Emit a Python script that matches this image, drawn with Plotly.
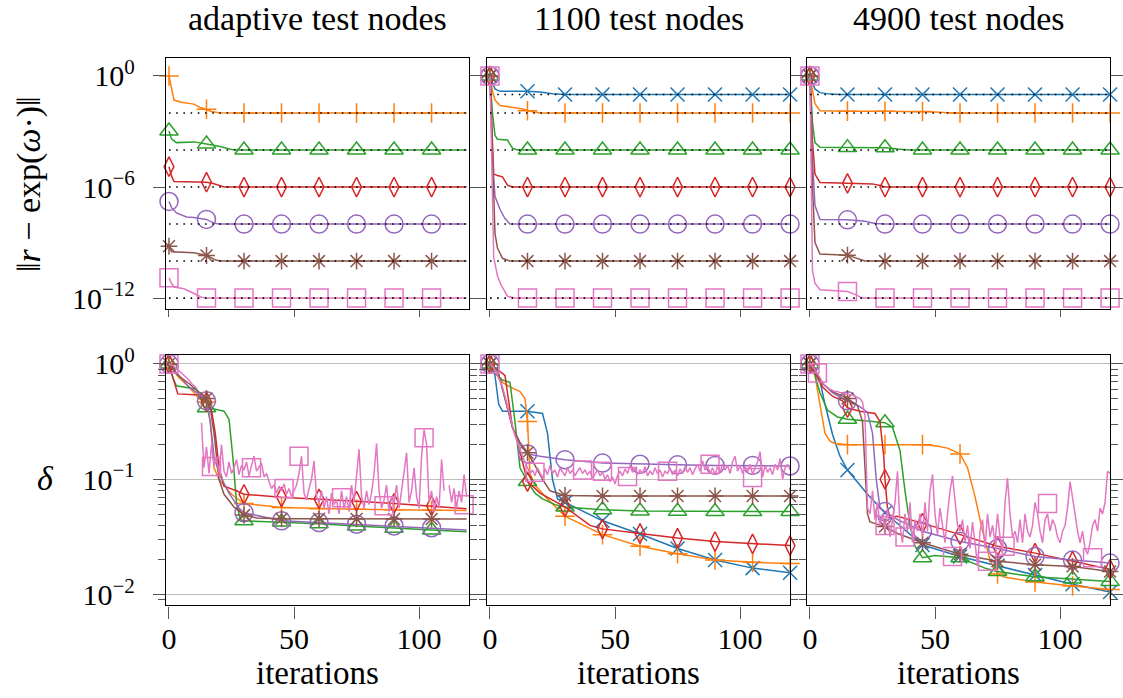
import plotly.graph_objects as go

# ---------------- colours / markers ----------------
C_BLUE, C_ORANGE, C_GREEN = "#1f77b4", "#ff7f0e", "#2ca02c"
C_RED, C_PURPLE, C_BROWN, C_PINK = "#d62728", "#9467bd", "#8c564b", "#e377c2"

PANEL_TITLES = ["adaptive test nodes", "1100 test nodes", "4900 test nodes"]
X_TICKS = [0, 50, 100]
TOP_TICKS = [1, 1e-6, 1e-12]
TOP_TICKTEXT = ["10<sup>0</sup>", "10<sup>−6</sup>", "10<sup>−12</sup>"]
BOT_TICKS = [1, 0.1, 0.01]
BOT_TICKTEXT = ["10<sup>0</sup>", "10<sup>−1</sup>", "10<sup>−2</sup>"]
BOT_MINOR = [0.009] + [k * 0.01 for k in range(2, 10)] + [k * 0.1 for k in range(2, 10)]

TARGETS_ADAPT = [-2, -4, -6, -8, -10, -12]        # log10 of dotted reference levels
TARGETS_FIXED = [-1, -2, -4, -6, -8, -10, -12]

# ---------------- data: (iteration, log10 value) ----------------
# top row, adaptive
TA_ORANGE = [(0, 0), (1, -0.6), (2, -1.3), (5, -1.42), (10, -1.52), (12, -1.68), (15, -1.8), (17, -1.92), (20, -1.99),
             (30, -2), (45, -2), (60, -2), (75, -2), (90, -2), (105, -2), (119, -2)]
TA_GREEN = [(0, -2.97), (1, -3.4), (3, -3.6), (10, -3.56), (15, -3.68), (20, -3.8), (25, -3.97), (30, -4),
            (45, -4), (60, -4), (75, -4), (90, -4), (105, -4), (119, -4)]
TA_RED = [(0, -4.9), (1, -5.4), (2, -5.7), (10, -5.72), (15, -5.74), (18, -5.82), (22, -6), (30, -6),
          (45, -6), (60, -6), (75, -6), (90, -6), (105, -6), (119, -6)]
TA_PURPLE = [(0, -6.78), (1, -7.1), (3, -7.4), (7, -7.62), (10, -7.65), (15, -7.75), (18, -7.95), (20, -8), (30, -8),
             (45, -8), (60, -8), (75, -8), (90, -8), (105, -8), (119, -8)]
TA_BROWN = [(0, -9.2), (1, -9.5), (10, -9.55), (15, -9.7), (19, -9.96), (21, -10), (30, -10),
            (45, -10), (60, -10), (75, -10), (90, -10), (105, -10), (119, -10)]
TA_PINK = [(0, -10.9), (1, -11.2), (2, -11.4), (6, -11.5), (10, -11.75), (13, -11.95), (15, -12), (30, -12),
           (45, -12), (60, -12), (75, -12), (90, -12), (105, -12), (119, -12)]

# top row, 1100 nodes
T1_BLUE = [(0, 0), (1, -0.4), (2, -0.7), (4, -0.83), (8, -0.82), (15, -0.82), (20, -0.86), (25, -0.96), (30, -1),
           (45, -1), (60, -1), (75, -1), (90, -1), (105, -1), (120, -1)]
T1_ORANGE = [(0, 0), (1, -0.8), (2, -1.3), (4, -1.6), (10, -1.72), (13, -1.78), (15, -1.88), (18, -1.97), (20, -2),
             (30, -2), (45, -2), (60, -2), (75, -2), (90, -2), (105, -2), (120, -2)]
T1_GREEN = [(0, 0), (1, -2.0), (2, -3.2), (3, -3.42), (7, -3.46), (9, -3.9), (11, -4), (15, -4), (30, -4),
            (45, -4), (60, -4), (75, -4), (90, -4), (105, -4), (120, -4)]
T1_RED = [(0, 0), (1, -4.0), (1.5, -5.3), (3, -5.38), (5, -5.45), (7, -5.9), (9, -6), (15, -6), (30, -6),
          (45, -6), (60, -6), (75, -6), (90, -6), (105, -6), (120, -6)]
T1_PURPLE = [(0, 0), (1, -4.5), (2, -6.5), (4, -7.2), (6, -7.7), (8, -8), (15, -8), (30, -8),
             (45, -8), (60, -8), (75, -8), (90, -8), (105, -8), (120, -8)]
T1_BROWN = [(0, 0), (1, -5), (2, -8.5), (3, -9.3), (5, -9.85), (8, -10), (15, -10), (30, -10),
            (45, -10), (60, -10), (75, -10), (90, -10), (105, -10), (120, -10)]
T1_PINK = [(0, 0), (1, -8), (1.5, -9.8), (3, -10.8), (4.5, -11.3), (7, -11.9), (10, -12), (15, -12), (30, -12),
           (45, -12), (60, -12), (75, -12), (90, -12), (105, -12), (120, -12)]

# top row, 4900 nodes
T4_BLUE = [(0, 0), (1, -0.4), (2, -0.7), (4, -0.9), (8, -0.98), (12, -1), (15, -1), (30, -1),
           (45, -1), (60, -1), (75, -1), (90, -1), (105, -1), (120, -1)]
T4_ORANGE = [(0, 0), (1, -0.8), (2, -1.5), (4, -1.88), (10, -1.9), (15, -1.9), (30, -1.91), (45, -1.92),
             (50, -1.95), (55, -1.98), (60, -2), (75, -2), (90, -2), (105, -2), (120, -2)]
T4_GREEN = [(0, 0), (1, -2.5), (2, -3.6), (4, -3.85), (15, -3.87), (30, -3.88), (35, -3.95), (40, -4),
            (45, -4), (60, -4), (75, -4), (90, -4), (105, -4), (120, -4)]
T4_RED = [(0, 0), (1, -3.5), (2, -5.3), (4, -5.75), (15, -5.8), (25, -5.83), (28, -5.92), (30, -6),
          (45, -6), (60, -6), (75, -6), (90, -6), (105, -6), (120, -6)]
T4_PURPLE = [(0, 0), (1, -4.5), (2, -7.0), (4, -7.75), (15, -7.77), (22, -7.85), (26, -7.97), (30, -8),
             (45, -8), (60, -8), (75, -8), (90, -8), (105, -8), (120, -8)]
T4_BROWN = [(0, 0), (1, -6), (2, -9.0), (4, -9.62), (15, -9.68), (19, -9.85), (22, -10), (30, -10),
            (45, -10), (60, -10), (75, -10), (90, -10), (105, -10), (120, -10)]
T4_PINK = [(0, 0), (0.5, -6), (1, -10.5), (2, -11.2), (4, -11.55), (15, -11.65), (18, -11.8), (21, -12), (30, -12),
           (45, -12), (60, -12), (75, -12), (90, -12), (105, -12), (120, -12)]

# bottom row, adaptive
BA_ORANGE = [(0, 0), (4, -0.12), (8, -0.2), (12, -0.3), (15, -0.33), (16.5, -0.5), (18, -0.9), (20, -1.0),
             (25, -1.13), (30, -1.21), (45, -1.245), (60, -1.255), (75, -1.26), (90, -1.265), (105, -1.268), (119, -1.27)]
BA_GREEN = [(0, 0), (1.5, -0.12), (3, -0.19), (11, -0.22), (14, -0.37), (15, -0.38), (18, -0.39), (22, -0.41),
            (24, -0.48), (25.5, -0.8), (27, -1.2), (28.5, -1.35), (30, -1.36), (45, -1.37), (60, -1.385),
            (75, -1.405), (90, -1.425), (105, -1.44), (119, -1.455)]
BA_RED = [(0, 0), (1.5, -0.12), (3.5, -0.26), (12, -0.27), (15, -0.33), (17, -0.4), (18.5, -0.6), (20, -0.9),
          (22, -1.06), (27, -1.1), (30, -1.13), (45, -1.155), (60, -1.17), (75, -1.19), (90, -1.21), (105, -1.23),
          (119, -1.255)]
BA_PURPLE = [(0, 0), (2, -0.05), (8, -0.2), (13, -0.28), (15, -0.32), (16.5, -0.5), (18, -0.8), (20, -0.95),
             (24, -1.12), (28, -1.25), (30, -1.29), (45, -1.36), (60, -1.375), (75, -1.39), (90, -1.405),
             (105, -1.42), (119, -1.44)]
BA_BROWN = [(0, 0), (3, -0.09), (8, -0.17), (14, -0.28), (15, -0.3), (16.5, -0.38), (18, -0.6), (20, -1.0),
            (22, -1.13), (26, -1.24), (30, -1.31), (35, -1.335), (45, -1.342), (60, -1.343), (75, -1.344),
            (90, -1.344), (105, -1.345), (119, -1.345)]
BA_PINK = [0, -0.01, -0.02, -0.04, -0.06, -0.08, -0.1, -0.12, -0.14, -0.17, -0.19, -0.21, None, -0.51,
           -0.9, -0.72, -0.95, -0.7, -0.88, -0.82, -0.95, -0.7, -0.93, -0.98, -0.85, -0.95, -0.9, -0.83, -0.96,
           -0.88, -0.92, -0.85, -0.97, -0.88, -0.8, -0.93, -0.9, -0.86, -0.98, -0.95,
           -1.02, -1.08, -1.05, -1.12, -1.06, -1.1, -1.04, -1.13, -1.08, -1.15, -1.1, -1.05, -0.95, -0.8, -1.12,
           -1.18, -1.08, -1.0, -0.84, -1.15, -1.2, -1.1, -1.25, -1.15, -1.3, -1.12, -1.22, -1.18, -1.3, -1.1,
           -1.25, -1.15, -1.28, -1.05, -1.2, -0.95, -0.74, -1.15, -1.25, -1.1, -1.22, -1.12, -0.95, -0.69, -1.1,
           -1.25, -1.18, -1.05, -1.28, -1.15, -1.2, -1.05, -1.25, -1.1, -0.95, -0.77, -1.2, -1.1, -0.9, -1.15,
           -1.25, -0.8, -0.57, -0.7, -1.2, -1.1, -1.28, -1.15, -1.25, -0.83, -1.1, None, -1.05, -1.2, -1.08,
           -1.25, -1.1, -1.2, -0.96, -1.15]
BA_PINK_MARK_IT = [0, 17, 33, 46, 52, 69, 86, 102, 118]
BA_PINK_MARK_LOG = [0, -0.89, -0.9, -1.08, -0.8, -1.16, -1.23, -0.64, -1.22]

# bottom row, 1100 nodes
B1_BLUE = [(0, 0), (2, -0.1), (3.5, -0.35), (5, -0.41), (15, -0.41), (21, -0.43), (23, -0.6), (25, -1.0),
           (27, -1.17), (30, -1.2), (45, -1.36), (60, -1.475), (75, -1.6), (90, -1.7), (105, -1.77), (120, -1.81)]
B1_ORANGE = [(0, 0), (2, -0.08), (5, -0.16), (8, -0.2), (12, -0.24), (14, -0.3), (15, -0.5), (16, -0.95),
             (18, -1.05), (23, -1.17), (30, -1.32), (45, -1.48), (60, -1.58), (75, -1.646), (90, -1.7),
             (105, -1.72), (120, -1.73)]
B1_GREEN = [(0, 0), (2, -0.08), (5, -0.14), (8, -0.16), (10, -0.5), (12, -0.9), (15, -1.02), (18, -1.12),
            (21, -1.17), (26, -1.22), (30, -1.24), (45, -1.265), (60, -1.275), (75, -1.278), (90, -1.28),
            (105, -1.28), (120, -1.28)]
B1_RED = [(0, 0), (3, -0.05), (6, -0.1), (9, -0.55), (11, -0.67), (13, -0.85), (15, -1.02), (20, -1.12),
          (24, -1.17), (30, -1.24), (40, -1.4), (45, -1.43), (60, -1.47), (75, -1.51), (90, -1.54), (105, -1.56),
          (120, -1.575)]
B1_PURPLE = [(0, 0), (3, -0.05), (6, -0.3), (9, -0.55), (12, -0.7), (15, -0.78), (20, -0.8), (30, -0.83),
             (45, -0.86), (60, -0.87), (75, -0.875), (90, -0.88), (105, -0.88), (120, -0.885)]
B1_BROWN = [(0, 0), (3, -0.05), (6, -0.3), (9, -0.55), (12, -0.68), (15, -0.77), (18, -0.88), (21, -1.0),
            (24, -1.1), (28, -1.13), (30, -1.14), (45, -1.145), (60, -1.145), (75, -1.145), (90, -1.145),
            (105, -1.145), (120, -1.145)]
B1_PINK = [0, -0.02, -0.05, -0.1, -0.15, -0.2, -0.28, -0.37, -0.45, -0.54, -0.62, -0.68, -0.75, -0.8, -0.85,
           -0.9, -0.95, -0.92, -0.97, -0.9, -0.94, -0.99, -0.91, -0.96, -0.88, -0.95, -0.92, -0.98, -0.9, -0.94,
           -0.97, -0.9, -0.95, -0.92, -0.97, -0.93, -0.9, -0.95, -0.92, -0.96, -0.93, -0.99, -0.95, -0.92, -0.97,
           -0.94, -1.0, -0.96, -1.02, -0.98, -1.04, -0.97, -0.93, -0.97, -0.91, -0.95, -0.88, -0.94, -0.9, -0.96,
           -0.92, -0.95, -0.89, -0.97, -0.93, -0.96, -0.9, -0.95, -0.92, -0.98, -0.93, -0.95, -0.9, -0.96, -0.92,
           -0.97, -0.91, -0.95, -0.89, -0.94, -0.9, -0.96, -0.91, -0.87, -0.93, -0.84, -0.92, -0.88, -0.95, -0.9,
           -0.96, -0.89, -0.94, -0.87, -0.92, -0.88, -0.95, -0.85, -0.8, -0.93, -0.88, -0.95, -0.89, -0.94, -0.87,
           -0.96, -0.9, -0.85, -0.76, -0.98, -0.88, -0.94, -0.9, -0.96, -0.87, -0.92, -0.82, -1.0, -0.9, -0.87,
           -0.92]
B1_PINK_MARK_IT = [0, 18, 37, 45, 55, 71, 88, 105]
B1_PINK_MARK_LOG = [0, -0.94, -0.92, -0.93, -0.975, -0.93, -0.87, -0.985]

# bottom row, 4900 nodes
B4_BLUE = [(0, 0), (2, -0.05), (4, -0.15), (6, -0.35), (9, -0.61), (12, -0.8), (15, -0.92), (23, -1.13),
           (30, -1.29), (45, -1.57), (60, -1.67), (75, -1.75), (90, -1.83), (105, -1.91), (120, -1.977)]
B4_ORANGE = [(0, 0), (2, -0.1), (4, -0.35), (6, -0.6), (8, -0.67), (10, -0.69), (15, -0.7), (30, -0.7),
             (45, -0.7), (50, -0.71), (55, -0.73), (60, -0.78), (63, -0.9), (66, -1.15), (69, -1.45), (72, -1.7),
             (75, -1.82), (78, -1.85), (90, -1.89), (105, -1.925), (120, -1.955)]
B4_GREEN = [(0, 0), (2, -0.1), (4, -0.25), (7, -0.4), (11, -0.46), (15, -0.48), (25, -0.5), (30, -0.51),
            (33, -0.55), (36, -0.75), (38, -1.1), (40, -1.4), (42, -1.58), (45, -1.68), (50, -1.66), (60, -1.68),
            (70, -1.77), (75, -1.8), (90, -1.845), (105, -1.865), (120, -1.885)]
B4_RED = [(0, 0), (2, -0.08), (5, -0.2), (9, -0.28), (13, -0.32), (15, -0.38), (20, -0.41), (26, -0.43),
          (28, -0.5), (29.5, -0.8), (30, -1.0), (31, -1.25), (32, -1.33), (35, -1.32), (45, -1.38), (60, -1.48),
          (75, -1.58), (90, -1.64), (105, -1.71), (120, -1.78)]
B4_PURPLE = [(0, 0), (2, -0.06), (5, -0.17), (9, -0.25), (13, -0.3), (15, -0.32), (20, -0.37), (23, -0.42),
             (25, -0.6), (26.5, -1.0), (28, -1.25), (30, -1.28), (35, -1.35), (45, -1.45), (60, -1.54),
             (75, -1.6), (90, -1.67), (105, -1.7), (120, -1.726)]
B4_BROWN = [(0, 0), (2, -0.06), (5, -0.17), (9, -0.24), (13, -0.28), (15, -0.3), (19, -0.36), (21, -0.5),
            (22, -0.9), (23, -1.3), (24, -1.37), (30, -1.41), (35, -1.47), (45, -1.55), (60, -1.65), (75, -1.71),
            (90, -1.74), (105, -1.755), (120, -1.8)]
B4_PINK = [0, -0.02, -0.05, -0.08, -0.12, -0.16, -0.19, -0.21, -0.22, -0.23, -0.24, -0.24, -0.25, -0.25,
           -0.26, -0.26, -0.27, -0.27, -0.28, -0.29, -0.3, -0.33, -0.45, -1.25, -1.3, -1.1, -1.35, -1.2, -1.4,
           -1.3, -1.45, -1.25, -1.5, -1.35, -1.2, -0.93, -1.4, -1.55, -1.3, -1.45, -1.2, -1.55, -1.35, -1.45,
           -1.3, -1.5, -1.2, -1.45, -1.1, -0.96, -1.3, -1.48, -1.25, -1.4, -1.55, -1.3, -1.1, -0.97, -1.2, -1.4,
           -1.45, -1.35, -1.55, -1.4, -1.6, -1.37, -1.55, -1.75, -1.45, -1.35, -1.6, -1.3, -1.5, -1.4, -1.55,
           -1.3, -1.5, -1.65, -1.2, -0.99, -1.3, -1.5, -1.45, -1.55, -1.35, -1.55, -1.3, -1.45, -1.5, -1.4, -1.2,
           -1.3, -1.45, -1.55, -1.35, -1.3, -1.45, -1.35, -1.4, -1.5, -1.55, -1.45, -1.4, -1.25, -1.02, -1.15,
           -1.3, -1.45, -1.55, -1.45, -1.6, -1.65, -1.55, -1.4, -1.35, -1.45, -1.25, -1.3, -1.2, -0.93, -0.95]
B4_PINK_MARK_IT = [0, 3, 30, 38, 57, 71, 78, 95, 113]
B4_PINK_MARK_LOG = [0, -0.08, -1.4, -1.5, -1.67, -1.71, -1.58, -1.21, -1.68]

# ---------------- figure ----------------
FONT = "Liberation Serif"
SYMBOL = {C_BLUE: ("x-thin-open", 14), C_ORANGE: ("cross-thin-open", 14), C_GREEN: ("triangle-up-open", 16),
          C_RED: ("diamond-tall-open", 14), C_PURPLE: ("circle-open", 18), C_BROWN: ("asterisk-open", 14),
          C_PINK: ("square-open", 18)}

fig = go.Figure()


def axn(i):
    return ("x" if i == 1 else f"x{i}"), ("y" if i == 1 else f"y{i}")


def marker_trace(xs, ys, color, xa, ya):
    sym, size = SYMBOL[color]
    return go.Scatter(x=xs, y=ys, mode="markers", xaxis=xa, yaxis=ya, showlegend=False, hoverinfo="skip",
                      cliponaxis=False,
                      marker=dict(symbol=sym, size=size, color=color, line=dict(color=color, width=1.5)))


def add_curve(pairs, color, panel):
    xa, ya = axn(panel)
    it = [p[0] for p in pairs]
    val = [10 ** p[1] for p in pairs]
    fig.add_trace(go.Scatter(x=it, y=val, mode="lines", xaxis=xa, yaxis=ya, showlegend=False, hoverinfo="skip",
                             line=dict(color=color, width=1.5)))
    mk = [(i, v) for i, v in zip(it, val) if float(i).is_integer() and int(i) % 15 == 0]
    fig.add_trace(marker_trace([m[0] for m in mk], [m[1] for m in mk], color, xa, ya))


def add_noisy(logs, mark_it, mark_log, color, panel):
    xa, ya = axn(panel)
    fig.add_trace(go.Scatter(x=list(range(len(logs))), y=[None if v is None else 10 ** v for v in logs],
                             mode="lines", xaxis=xa, yaxis=ya, showlegend=False, hoverinfo="skip",
                             connectgaps=False, line=dict(color=color, width=1.5)))
    fig.add_trace(marker_trace(mark_it, [10 ** v for v in mark_log], color, xa, ya))


def add_targets(levels, end, panel):
    xa, ya = axn(panel)
    for lv in levels:
        fig.add_trace(go.Scatter(x=[0, end], y=[10 ** lv, 10 ** lv], mode="lines", xaxis=xa, yaxis=ya,
                                 showlegend=False, hoverinfo="skip",
                                 line=dict(color="black", width=1.6, dash="1.6px,5.6px")))


# top row
for pairs, col in [(TA_ORANGE, C_ORANGE), (TA_GREEN, C_GREEN), (TA_RED, C_RED), (TA_PURPLE, C_PURPLE),
                   (TA_BROWN, C_BROWN), (TA_PINK, C_PINK)]:
    add_curve(pairs, col, 1)
add_targets(TARGETS_ADAPT, 119, 1)
for pairs, col in [(T1_BLUE, C_BLUE), (T1_ORANGE, C_ORANGE), (T1_GREEN, C_GREEN), (T1_RED, C_RED),
                   (T1_PURPLE, C_PURPLE), (T1_BROWN, C_BROWN), (T1_PINK, C_PINK)]:
    add_curve(pairs, col, 2)
add_targets(TARGETS_FIXED, 120, 2)
for pairs, col in [(T4_BLUE, C_BLUE), (T4_ORANGE, C_ORANGE), (T4_GREEN, C_GREEN), (T4_RED, C_RED),
                   (T4_PURPLE, C_PURPLE), (T4_BROWN, C_BROWN), (T4_PINK, C_PINK)]:
    add_curve(pairs, col, 3)
add_targets(TARGETS_FIXED, 120, 3)

# bottom row
for pairs, col in [(BA_ORANGE, C_ORANGE), (BA_GREEN, C_GREEN), (BA_RED, C_RED), (BA_PURPLE, C_PURPLE),
                   (BA_BROWN, C_BROWN)]:
    add_curve(pairs, col, 4)
add_noisy(BA_PINK, BA_PINK_MARK_IT, BA_PINK_MARK_LOG, C_PINK, 4)
for pairs, col in [(B1_BLUE, C_BLUE), (B1_ORANGE, C_ORANGE), (B1_GREEN, C_GREEN), (B1_RED, C_RED),
                   (B1_PURPLE, C_PURPLE), (B1_BROWN, C_BROWN)]:
    add_curve(pairs, col, 5)
add_noisy(B1_PINK, B1_PINK_MARK_IT, B1_PINK_MARK_LOG, C_PINK, 5)
for pairs, col in [(B4_BLUE, C_BLUE), (B4_ORANGE, C_ORANGE), (B4_GREEN, C_GREEN), (B4_RED, C_RED),
                   (B4_PURPLE, C_PURPLE), (B4_BROWN, C_BROWN)]:
    add_curve(pairs, col, 6)
add_noisy(B4_PINK, B4_PINK_MARK_IT, B4_PINK_MARK_LOG, C_PINK, 6)

# ---------------- axes ----------------
W, H = 1123, 698


def ypx(p):
    # vertical pixel position in the figure for a target row p of the final picture
    return (p - 11) / 0.975


XD = [(163 / W, 468 / W), (486 / W, 791 / W), (808 / W, 1113 / W)]
YD = [(1 - ypx(308) / H, 1 - ypx(57) / H), (1 - ypx(604) / H, 1 - ypx(354) / H)]
TICKFONT = dict(family=FONT, size=30, color="black")
layout = {}
for p in range(1, 7):
    row = 0 if p <= 3 else 1
    col = (p - 1) % 3
    xk = "xaxis" if p == 1 else f"xaxis{p}"
    yk = "yaxis" if p == 1 else f"yaxis{p}"
    xa, ya = axn(p)
    layout[xk] = dict(domain=XD[col], anchor=ya, range=[-1.2, 120], showline=True, linecolor="black",
                      linewidth=1.3, mirror=True, ticks="outside", ticklen=7 if row == 0 else 12,
                      tickcolor="#555", tickwidth=1.3, tickmode="array", tickvals=X_TICKS,
                      ticktext=[str(t) for t in X_TICKS], showticklabels=(row == 1), tickfont=TICKFONT,
                      ticklabelstandoff=-6, showgrid=False, zeroline=False)
    ydict = dict(domain=YD[row], anchor=xa, type="log", showline=True, linecolor="black", linewidth=1.3,
                 mirror="allticks", ticks="outside", ticklen=12, tickcolor="#555", tickwidth=1.3,
                 tickmode="array", showticklabels=(col == 0), tickfont=TICKFONT, ticklabelstandoff=12,
                 zeroline=False)
    if row == 0:
        ydict.update(range=[-12.6, 0.97], tickvals=TOP_TICKS, ticktext=TOP_TICKTEXT, showgrid=False)
    else:
        ydict.update(range=[-2.093, 0.075], tickvals=BOT_TICKS, ticktext=BOT_TICKTEXT, showgrid=True,
                     gridcolor="#bdbdbd", gridwidth=1.3,
                     minor=dict(tickmode="array", tickvals=BOT_MINOR, ticks="outside", ticklen=7,
                                tickcolor="#555", tickwidth=1.2, showgrid=False))
    layout[yk] = ydict

annotations = []
for col, t in enumerate(PANEL_TITLES):
    cx = (XD[col][0] + XD[col][1]) / 2
    annotations.append(dict(text=t, x=cx, y=1 - ypx(17) / H, xref="paper", yref="paper", showarrow=False,
                            font=dict(family=FONT, size=34, color="black"), xanchor="center", yanchor="middle"))
    annotations.append(dict(text="iterations", x=cx, y=0, xref="paper", yref="paper",
                            showarrow=False, font=dict(family=FONT, size=33, color="black"),
                            xanchor="center", yanchor="bottom"))
annotations.append(dict(text="‖<i>r</i> − exp(<i>ω</i>·)‖", x=25 / W, y=1 - ypx(183) / H, xref="paper",
                        yref="paper", showarrow=False, textangle=-90,
                        font=dict(family=FONT, size=34, color="black"), xanchor="center", yanchor="middle"))
annotations.append(dict(text="<i>δ</i>", x=42 / W, y=1 - ypx(477) / H, xref="paper", yref="paper",
                        showarrow=False, font=dict(family=FONT, size=34, color="black"),
                        xanchor="center", yanchor="middle"))

fig.update_layout(width=W, height=H, margin=dict(l=0, r=0, t=0, b=0), paper_bgcolor="white",
                  plot_bgcolor="white", showlegend=False, annotations=annotations, **layout)

fig.write_html("out.html")
